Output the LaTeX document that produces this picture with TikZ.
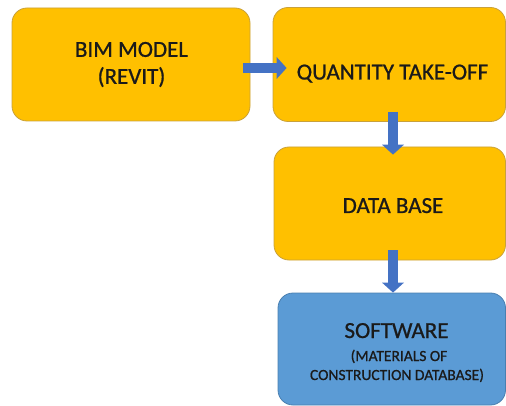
\documentclass[tikz,border=0pt]{standalone}
\usepackage{fontspec}
\setmainfont{Carlito}[FakeBold=0.8]
\usetikzlibrary{arrows.meta}
\definecolor{boxyellow}{HTML}{FFC000}
\definecolor{boxyellowline}{HTML}{C9A13A}
\definecolor{boxblue}{HTML}{5B9BD5}
\definecolor{boxblueline}{HTML}{4A7FB0}
\definecolor{arrowblue}{HTML}{4472C4}
\definecolor{txt}{HTML}{1A1A1A}
\tikzset{
  ybox/.style={draw=boxyellowline, line width=0.8pt, fill=boxyellow, rounded corners=15pt, inner sep=0pt},
  bbox/.style={draw=boxblueline, line width=0.8pt, fill=boxblue, rounded corners=15pt, inner sep=0pt},
  bigtxt/.style={text=txt, align=center, inner sep=0pt, font=\fontsize{23}{27}\selectfont},
  smalltxt/.style={text=txt, align=center, inner sep=0pt, font=\fontsize{15.5}{19}\selectfont},
  blockarrow/.style={draw=arrowblue, line width=10pt, -{Triangle[length=10pt,width=22pt,line width=0pt,fill=arrowblue]}}
}
\begin{document}
\begin{tikzpicture}[x=1pt,y=-1pt]
\useasboundingbox (0,0) rectangle (506,406);
\node[ybox, minimum width=238pt, minimum height=113pt] (b1) at (131,64.5) {};
\node[ybox, minimum width=232.5pt, minimum height=114pt] (b2) at (389.25,64.5) {};
\node[ybox, minimum width=231.5pt, minimum height=113pt] (b3) at (389.75,203.5) {};
\node[bbox, minimum width=227.5pt, minimum height=112pt] (b4) at (391.75,349) {};
\node[bigtxt] (t1) at (131.5,64.5) {BIM MODEL\\(REVIT)};
\node[bigtxt, anchor=base] (t2) at (392.5,79.5) {QUANTITY TAKE-OFF};
\node[bigtxt, anchor=base] (t3) at (393,213) {DATA BASE};
\node[bigtxt, anchor=base] (t4) at (396.5,338) {SOFTWARE};
\node[smalltxt, anchor=base] (t5) at (399,361) {(MATERIALS OF};
\node[smalltxt, anchor=base] (t6) at (397,380) {CONSTRUCTION DATABASE)};
\draw[blockarrow] ([shift={(-7,3.5)}]b1.east) -- ([shift={(14,3.5)}]b2.west);
\draw[blockarrow] ([shift={(3.75,-10)}]b2.south) -- ([shift={(3.25,8)}]b3.north);
\draw[blockarrow] ([shift={(3.25,-10)}]b3.south) -- ([shift={(1.25,0)}]b4.north);
\end{tikzpicture}
\end{document}
